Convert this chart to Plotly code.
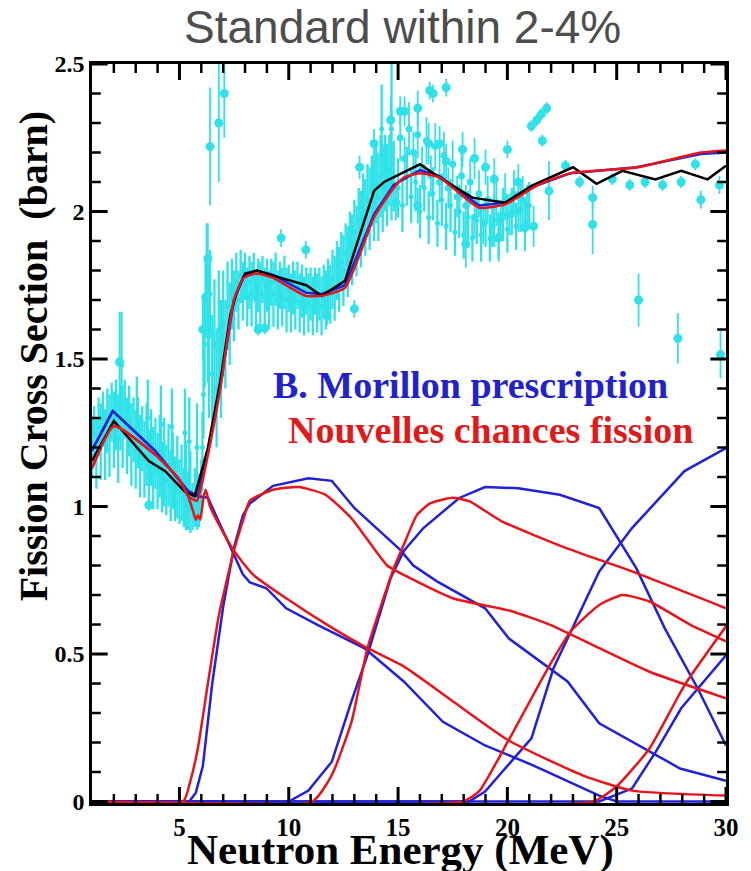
import plotly.graph_objects as go

# ---------------- measured cross sections (E in MeV, sigma in barn) ----------------
# dense, finely binned measurements
dense_E = [1.0, 1.1, 1.2, 1.3, 1.4, 1.5, 1.6, 1.7, 1.8, 1.9,
           2.0, 2.1, 2.2, 2.3, 2.4, 2.5, 2.6, 2.7, 2.8, 2.9,
           3.0, 3.1, 3.2, 3.3, 3.4, 3.5, 3.6, 3.7, 3.8, 3.9,
           4.0, 4.1, 4.2, 4.3, 4.4, 4.5, 4.6, 4.7, 4.8, 4.9,
           5.0, 5.1, 5.2, 5.3, 5.4, 5.5, 5.6, 5.7, 5.8, 5.9,
           6.0, 6.05, 6.1, 6.15, 6.2, 6.25, 6.3, 6.35, 6.4, 6.5,
           6.6, 6.7, 6.8, 6.9, 7.0, 7.1, 7.2, 7.3, 7.4, 7.5,
           7.6, 7.7, 7.8, 7.9, 8.0, 8.1, 8.2, 8.3, 8.4, 8.5,
           8.6, 8.7, 8.8, 8.9, 9.0, 9.1, 9.2, 9.3, 9.4, 9.5,
           9.6, 9.7, 9.8, 9.9, 10.0, 10.1, 10.2, 10.3, 10.4, 10.5,
           10.6, 10.7, 10.8, 10.9, 11.0, 11.1, 11.2, 11.3, 11.4, 11.5,
           11.6, 11.7, 11.8, 11.9, 12.0, 12.1, 12.2, 12.3, 12.4, 12.5,
           12.6, 12.7, 12.8, 12.9, 13.0, 13.1, 13.2, 13.3, 13.4, 13.5,
           13.6, 13.7, 13.8, 13.9, 14.0, 14.1, 14.2, 14.3, 14.4, 14.5,
           14.6, 14.7, 14.8, 15.0, 15.2, 15.4, 15.6, 15.8, 16.0, 16.2,
           16.4, 16.6, 16.8, 17.0, 17.2, 17.4, 17.6, 17.8, 18.0, 18.2,
           18.4, 18.6, 18.8, 19.0, 19.2, 19.4, 19.6, 19.8, 20.0, 20.2,
           20.4, 20.6, 20.8, 21.0]
dense_sig = [1.20, 1.25, 1.18, 1.27, 1.22, 1.30, 1.21, 1.29, 1.24, 1.32,
             1.26, 1.31, 1.23, 1.30, 1.27, 1.33, 1.24, 1.29, 1.21, 1.26,
             1.19, 1.25, 1.17, 1.23, 1.16, 1.21, 1.14, 1.20, 1.13, 1.18,
             1.12, 1.17, 1.10, 1.15, 1.09, 1.14, 1.07, 1.12, 1.06, 1.10,
             1.05, 1.08, 1.03, 1.07, 1.02, 1.05, 1.00, 1.03, 0.99, 1.02,
             1.06, 1.20, 1.38, 1.55, 1.71, 1.84, 1.62, 1.45, 1.72, 1.45,
             1.55, 1.40, 1.60, 1.50, 1.62, 1.55, 1.68, 1.62, 1.72, 1.68,
             1.76, 1.70, 1.78, 1.73, 1.78, 1.71, 1.76, 1.72, 1.78, 1.70,
             1.75, 1.72, 1.77, 1.71, 1.75, 1.70, 1.76, 1.72, 1.77, 1.70,
             1.75, 1.71, 1.76, 1.70, 1.74, 1.69, 1.74, 1.70, 1.75, 1.69,
             1.73, 1.68, 1.73, 1.69, 1.72, 1.68, 1.73, 1.69, 1.72, 1.68,
             1.73, 1.70, 1.75, 1.72, 1.77, 1.74, 1.80, 1.77, 1.83, 1.80,
             1.86, 1.83, 1.90, 1.87, 1.93, 1.90, 1.97, 1.94, 2.01, 1.98,
             2.04, 2.01, 2.07, 2.04, 2.09, 2.05, 2.12, 2.08, 2.13, 2.09,
             2.14, 2.10, 2.12, 2.08, 2.02, 2.12, 2.05, 2.10, 2.00, 2.08,
             1.98, 2.06, 1.96, 2.04, 1.95, 2.02, 1.93, 2.00, 1.92, 1.98,
             1.91, 1.97, 1.92, 1.96, 1.91, 1.97, 1.92, 1.99, 1.94, 2.00,
             1.95, 2.01, 1.96, 2.02]
dense_err = [0.10, 0.09, 0.12, 0.10, 0.13, 0.09, 0.12, 0.11, 0.14, 0.10,
             0.13, 0.12, 0.15, 0.11, 0.14, 0.10, 0.13, 0.12, 0.14, 0.11,
             0.13, 0.12, 0.14, 0.11, 0.13, 0.14, 0.12, 0.13, 0.14, 0.12,
             0.13, 0.14, 0.12, 0.15, 0.12, 0.14, 0.12, 0.13, 0.11, 0.14,
             0.11, 0.13, 0.10, 0.15, 0.10, 0.14, 0.08, 0.10, 0.07, 0.09,
             0.10, 0.12, 0.15, 0.15, 0.14, 0.12, 0.20, 0.15, 0.15, 0.20,
             0.22, 0.20, 0.20, 0.20, 0.18, 0.15, 0.15, 0.14, 0.12, 0.12,
             0.10, 0.10, 0.09, 0.10, 0.08, 0.10, 0.09, 0.11, 0.08, 0.10,
             0.09, 0.11, 0.08, 0.10, 0.09, 0.10, 0.08, 0.11, 0.09, 0.10,
             0.08, 0.10, 0.09, 0.11, 0.08, 0.10, 0.09, 0.10, 0.08, 0.10,
             0.09, 0.10, 0.08, 0.10, 0.09, 0.10, 0.08, 0.10, 0.09, 0.10,
             0.09, 0.10, 0.09, 0.10, 0.10, 0.11, 0.10, 0.11, 0.10, 0.12,
             0.10, 0.12, 0.10, 0.12, 0.11, 0.12, 0.11, 0.13, 0.12, 0.13,
             0.12, 0.14, 0.12, 0.14, 0.13, 0.15, 0.14, 0.15, 0.13, 0.14,
             0.12, 0.13, 0.12, 0.10, 0.09, 0.10, 0.09, 0.10, 0.09, 0.08,
             0.09, 0.09, 0.08, 0.09, 0.08, 0.09, 0.08, 0.09, 0.08, 0.09,
             0.08, 0.08, 0.09, 0.08, 0.08, 0.09, 0.08, 0.09, 0.08, 0.08,
             0.08, 0.08, 0.08, 0.08]

# isolated fluctuating bins with large uncertainties
spike_E = [2.35, 3.05, 3.55, 4.15, 4.65, 5.25, 5.45, 5.8, 14.25, 14.7]
spike_sig = [1.48, 1.32, 1.30, 1.28, 1.27, 1.25, 1.22, 1.20, 2.28, 2.28]
spike_err = [0.18, 0.12, 0.13, 0.13, 0.13, 0.15, 0.15, 0.15, 0.15, 0.22]

# intermediate-resolution points above 15 MeV
mid_E = [15.1, 15.3, 15.5, 15.7, 15.9, 16.1, 16.3, 16.5, 16.7, 16.9,
         17.1, 17.3, 17.5, 17.7, 17.9, 18.1, 18.3, 18.5, 18.7, 18.9,
         19.1, 19.3, 19.5, 19.7, 19.9, 20.1, 20.3, 20.5, 20.7, 20.9]
mid_sig = [2.25, 2.18, 2.28, 2.20, 2.26, 2.15, 2.24, 2.12, 2.22, 2.10,
           2.19, 2.08, 2.16, 2.05, 2.12, 2.02, 2.10, 1.98, 2.06, 1.96,
           2.04, 1.95, 2.03, 1.97, 2.05, 1.99, 2.06, 2.00, 2.04, 2.02]
mid_err = [0.08, 0.07, 0.09, 0.07, 0.08, 0.07, 0.08, 0.07, 0.08, 0.07,
           0.08, 0.07, 0.08, 0.07, 0.08, 0.07, 0.08, 0.07, 0.08, 0.07,
           0.08, 0.07, 0.08, 0.07, 0.08, 0.07, 0.08, 0.07, 0.08, 0.07]

# older / coarser measurements (large markers)
big_E = [2.26, 3.6, 5.5, 6.07, 6.2, 6.3, 6.4, 6.8, 7.05, 8.6,
         8.9, 9.65, 10.78, 11.75, 13.0, 13.24, 13.9, 14.66, 14.9, 15.1,
         15.3, 15.9, 15.9, 16.4, 16.45, 16.6, 16.9, 17.2, 17.2, 17.95,
         18.1, 18.5, 19.0, 19.4, 19.6, 20.0, 20.5, 20.8, 21.2, 21.1,
         21.35, 21.55, 21.8, 21.6, 21.9, 22.66, 23.3, 23.9, 23.9, 24.8,
         25.6, 26.0, 26.3, 27.1, 27.8, 27.95, 28.6, 28.85, 29.7, 29.75]
big_sig = [1.49, 1.005, 1.0, 1.60, 1.71, 1.84, 2.22, 2.30, 2.40, 1.60,
           1.605, 1.91, 1.87, 1.645, 1.67, 2.15, 2.23, 2.31, 2.03, 2.34,
           2.34, 2.35, 2.02, 2.23, 2.41, 2.40, 2.23, 2.42, 2.17, 2.21,
           1.89, 2.18, 2.15, 2.11, 1.91, 2.21, 2.10, 1.945, 1.95, 2.29,
           2.31, 2.33, 2.35, 2.24, 2.07, 2.155, 2.10, 2.047, 1.956, 2.11,
           2.09, 1.70, 2.10, 2.09, 1.57, 2.10, 2.16, 2.04, 2.09, 1.515]
big_err = [0.17, 0.02, 0.02, 0.10, 0.12, 0.12, 0.20, 0.20, 0.15, 0.02,
           0.02, 0.03, 0.03, 0.03, 0.03, 0.04, 0.05, 0.08, 0.06, 0.05,
           0.05, 0.06, 0.06, 0.07, 0.03, 0.03, 0.06, 0.03, 0.06, 0.06,
           0.08, 0.07, 0.06, 0.07, 0.08, 0.03, 0.06, 0.08, 0.07, 0.02,
           0.02, 0.02, 0.02, 0.02, 0.10, 0.02, 0.02, 0.04, 0.10, 0.02,
           0.02, 0.09, 0.02, 0.02, 0.085, 0.02, 0.02, 0.03, 0.03, 0.08]

# ---------------- evaluated / calculated curves ----------------
black_E = [1.0, 2.0, 3.6, 4.35, 5.25, 5.7, 6.3, 6.87, 7.33, 7.64, 8.0, 8.53, 9.88, 10.8, 11.5,
           12.57, 13.9, 14.36, 16.0, 16.9, 18.4, 19.9, 21.1, 23.0, 24.08, 25.26, 26.77, 27.95, 29.16, 30.0]
black_sig = [1.155, 1.29, 1.154, 1.12, 1.05, 1.035, 1.198, 1.425, 1.65, 1.73, 1.79, 1.80, 1.77, 1.75, 1.714,
             1.765, 2.07, 2.10, 2.16, 2.115, 2.047, 2.03, 2.087, 2.15, 2.094, 2.138, 2.109, 2.138, 2.109, 2.155]

# B. Morillon prescription: total and multi-chance components
blue_tot_E = [1.0, 1.95, 3.9, 4.8, 5.4, 5.84, 6.3, 6.87, 7.49, 7.94, 8.53, 9.28, 10.78, 11.5, 12.57,
              13.9, 14.8, 16.0, 16.9, 18.7, 19.9, 21.4, 22.9, 25.9, 28.85, 30.0]
blue_tot_sig = [1.19, 1.324, 1.188, 1.108, 1.052, 1.035, 1.18, 1.41, 1.70, 1.78, 1.80, 1.785, 1.725, 1.72, 1.75,
                1.99, 2.09, 2.14, 2.12, 2.02, 2.03, 2.09, 2.13, 2.15, 2.195, 2.20]
b1_E = [1.0, 1.95, 3.9, 4.8, 5.4, 5.84, 6.3, 6.87, 7.49, 7.9, 8.22, 8.98, 9.88, 11.36, 13.47, 15.26,
        17.05, 18.98, 21.2, 24.2, 25.0, 30.0]
b1_sig = [1.19, 1.324, 1.188, 1.108, 1.052, 1.035, 1.03, 0.937, 0.835, 0.77, 0.743, 0.723, 0.655, 0.597,
          0.519, 0.407, 0.27, 0.19, 0.122, 0.02, 0.0, 0.0]
b2_E = [1.0, 5.45, 5.75, 6.07, 6.5, 7.0, 7.49, 7.9, 8.22, 9.28, 10.9, 11.97, 13.0, 15.1, 15.7, 16.76,
        18.98, 20.06, 22.75, 24.2, 27.9, 30.0]
b2_sig = [0.0, 0.0, 0.03, 0.12, 0.40, 0.66, 0.86, 0.97, 1.01, 1.07, 1.096, 1.087, 0.995, 0.853, 0.80,
          0.747, 0.655, 0.553, 0.407, 0.265, 0.112, 0.07]
b3_E = [1.0, 10.0, 10.9, 11.97, 12.87, 13.6, 14.66, 15.26, 16.16, 17.8, 18.98, 20.5, 22.4, 24.2, 25.9,
        27.2, 28.7, 30.0]
b3_sig = [0.0, 0.0, 0.037, 0.135, 0.34, 0.496, 0.757, 0.849, 0.927, 1.029, 1.066, 1.062, 1.04, 0.995,
          0.79, 0.587, 0.384, 0.19]
b4_E = [1.0, 18.25, 18.98, 21.1, 22.1, 24.2, 25.7, 28.1, 30.0]
b4_sig = [0.0, 0.0, 0.034, 0.214, 0.45, 0.78, 0.927, 1.12, 1.198]
b5_E = [1.0, 24.2, 25.7, 26.8, 27.95, 30.0]
b5_sig = [0.0, 0.0, 0.044, 0.17, 0.316, 0.496]

# "Nouvelles chances fission": total and multi-chance components
red_tot_E = [1.0, 2.0, 3.9, 4.95, 5.4, 5.8, 6.3, 6.87, 7.49, 7.94, 8.53, 9.28, 10.78, 11.5, 12.57, 13.9,
             14.8, 15.26, 16.0, 16.9, 18.7, 19.9, 21.4, 22.9, 25.9, 28.85, 30.0]
red_tot_sig = [1.13, 1.273, 1.175, 1.096, 1.035, 1.02, 1.175, 1.40, 1.70, 1.775, 1.79, 1.775, 1.714, 1.714,
               1.741, 1.98, 2.08, 2.115, 2.13, 2.115, 2.013, 2.024, 2.09, 2.13, 2.149, 2.20, 2.207]
r1_E = [1.0, 2.0, 3.9, 4.95, 5.4, 5.6, 5.75, 5.85, 5.95, 6.1, 6.2, 6.4, 6.87, 7.49, 8.38, 9.88, 11.8,
        13.47, 15.26, 17.5, 20.06, 23.47, 25.7, 30.0]
r1_sig = [1.13, 1.273, 1.175, 1.096, 1.035, 0.99, 0.955, 0.97, 0.955, 1.03, 1.057, 1.0, 0.93, 0.85, 0.768,
          0.689, 0.597, 0.525, 0.458, 0.34, 0.207, 0.088, 0.037, 0.02]
r2_E = [1.0, 5.17, 5.5, 5.84, 6.3, 6.8, 7.49, 7.94, 8.22, 9.28, 10.47, 11.67, 12.87, 14.5, 15.26, 17.5,
        20.2, 21.99, 24.2, 26.5, 30.0]
r2_sig = [0.0, 0.0, 0.07, 0.18, 0.40, 0.63, 0.85, 0.96, 1.02, 1.057, 1.066, 1.04, 0.96, 0.80, 0.768,
          0.689, 0.645, 0.598, 0.52, 0.44, 0.35]
r3_E = [1.0, 11.07, 11.97, 12.87, 13.6, 14.8, 15.26, 15.85, 16.45, 17.5, 18.25, 19.74, 22.7, 25.7, 30.0]
r3_sig = [0.0, 0.0, 0.09, 0.27, 0.52, 0.79, 0.87, 0.97, 1.01, 1.03, 1.018, 0.95, 0.859, 0.78, 0.655]
r4_E = [1.0, 17.95, 18.7, 20.05, 21.84, 22.9, 24.2, 25.26, 26.5, 28.4, 30.0]
r4_sig = [0.0, 0.0, 0.034, 0.207, 0.45, 0.577, 0.666, 0.70, 0.678, 0.598, 0.543]
r5_E = [1.0, 23.9, 24.98, 26.5, 28.1, 30.0]
r5_sig = [0.0, 0.0, 0.05, 0.18, 0.394, 0.594]

# axis tick positions
x_major = [5, 10, 15, 20, 25, 30]
x_minor = [2, 3, 4, 6, 7, 8, 9, 11, 12, 13, 14, 16, 17, 18, 19, 21, 22, 23, 24, 26, 27, 28, 29]
y_major = [0, 0.5, 1, 1.5, 2, 2.5]
y_minor = [0.1, 0.2, 0.3, 0.4, 0.6, 0.7, 0.8, 0.9, 1.1, 1.2, 1.3, 1.4,
           1.6, 1.7, 1.8, 1.9, 2.1, 2.2, 2.3, 2.4]
X_RANGE = [1, 30]
Y_RANGE = [-0.005, 2.5]

W, H = 751, 871
MARGIN = dict(l=92, r=12, t=64, b=68)
PLOT_W = W - MARGIN["l"] - MARGIN["r"]
PLOT_H = H - MARGIN["t"] - MARGIN["b"]
X_PER_PX = (X_RANGE[1] - X_RANGE[0]) / PLOT_W
Y_PER_PX = (Y_RANGE[1] - Y_RANGE[0]) / PLOT_H

CYAN = "#2fe2e8"
BLUE = "#2121d8"
RED = "#e8141c"
SERIF = "Liberation Serif, Times New Roman, serif"

fig = go.Figure()

# measurements
for xs, ys, es in [(dense_E, dense_sig, dense_err), (spike_E, spike_sig, spike_err)]:
    fig.add_trace(go.Scatter(
        x=xs, y=ys, mode="markers",
        marker=dict(color=CYAN, size=5),
        error_y=dict(type="data", array=es, color=CYAN, thickness=2.3, width=0),
        hoverinfo="skip"))
fig.add_trace(go.Scatter(
    x=mid_E, y=mid_sig, mode="markers",
    marker=dict(color=CYAN, size=7),
    error_y=dict(type="data", array=mid_err, color=CYAN, thickness=1.8, width=0),
    hoverinfo="skip"))
fig.add_trace(go.Scatter(
    x=big_E, y=big_sig, mode="markers",
    marker=dict(color=CYAN, size=9),
    error_y=dict(type="data", array=big_err, color=CYAN, thickness=1.8, width=0),
    hoverinfo="skip"))

# B. Morillon curves
for xs, ys in [(b5_E, b5_sig), (b4_E, b4_sig), (b3_E, b3_sig), (b2_E, b2_sig),
               (b1_E, b1_sig), (blue_tot_E, blue_tot_sig)]:
    fig.add_trace(go.Scatter(x=xs, y=ys, mode="lines",
                             line=dict(color=BLUE, width=2.5), hoverinfo="skip"))

# evaluation
fig.add_trace(go.Scatter(x=black_E, y=black_sig, mode="lines",
                         line=dict(color="black", width=2.5), hoverinfo="skip"))

# Nouvelles chances curves
for xs, ys in [(r5_E, r5_sig), (r4_E, r4_sig), (r3_E, r3_sig), (r2_E, r2_sig),
               (r1_E, r1_sig), (red_tot_E, red_tot_sig)]:
    fig.add_trace(go.Scatter(x=xs, y=ys, mode="lines",
                             line=dict(color=RED, width=2.5, shape="spline", smoothing=0.5),
                             hoverinfo="skip"))


# inward tick marks on all four sides, drawn as line segments in data space
def x_tick_segments(vals, length_px):
    dy = length_px * Y_PER_PX
    xs, ys = [], []
    for v in vals:
        xs += [v, v, None, v, v, None]
        ys += [Y_RANGE[0], Y_RANGE[0] + dy, None, Y_RANGE[1], Y_RANGE[1] - dy, None]
    return xs, ys


def y_tick_segments(vals, length_px):
    dx = length_px * X_PER_PX
    xs, ys = [], []
    for v in vals:
        xs += [X_RANGE[0], X_RANGE[0] + dx, None, X_RANGE[1], X_RANGE[1] - dx, None]
        ys += [v, v, None, v, v, None]
    return xs, ys


for seg_fn, vals, length, width in [(x_tick_segments, x_major, 16, 3),
                                    (x_tick_segments, x_minor, 9, 2.5),
                                    (y_tick_segments, y_major, 16, 3),
                                    (y_tick_segments, y_minor, 9, 2.5)]:
    tx, ty = seg_fn(vals, length)
    fig.add_trace(go.Scatter(x=tx, y=ty, mode="lines", connectgaps=False,
                             line=dict(color="black", width=width), hoverinfo="skip"))

fig.update_layout(
    xaxis=dict(
        range=X_RANGE, tickmode="array", tickvals=x_major,
        ticktext=[str(v) for v in x_major], ticks="",
        showline=True, linecolor="black", linewidth=2.5, mirror=True,
        showgrid=False, zeroline=False,
        tickfont=dict(family=SERIF, size=25, color="black", weight="bold"),
    ),
    yaxis=dict(
        range=Y_RANGE, tickmode="array", tickvals=y_major,
        ticktext=["0", "0.5", "1", "1.5", "2", "2.5"], ticks="",
        showline=True, linecolor="black", linewidth=2.5, mirror=True,
        showgrid=False, zeroline=False,
        tickfont=dict(family=SERIF, size=24, color="black", weight="bold"),
        ticksuffix="\u00a0\u00a0",
    ),
)

annotations = [
    dict(text="Standard within 2-4%", x=0.49, y=1.05, xref="paper", yref="paper",
         xanchor="center", yanchor="middle", showarrow=False,
         font=dict(family="Liberation Sans, Arial, sans-serif", size=46, color="#4d4d4d")),
    dict(text="Neutron Energy (MeV)", x=0.487, y=-0.064, xref="paper", yref="paper",
         xanchor="center", yanchor="middle", showarrow=False,
         font=dict(family=SERIF, size=43, color="black", weight="bold")),
    dict(text="Fission Cross Section \u00a0(barn)", x=-0.092, y=0.604, xref="paper", yref="paper",
         xanchor="center", yanchor="middle", textangle=-90, showarrow=False,
         font=dict(family=SERIF, size=40, color="black", weight="bold")),
    dict(text="B. Morillon prescription", x=0.283, y=0.566, xref="paper", yref="paper",
         xanchor="left", yanchor="middle", showarrow=False,
         font=dict(family=SERIF, size=38, color="#2222cc", weight="bold")),
    dict(text="Nouvelles chances fission", x=0.306, y=0.505, xref="paper", yref="paper",
         xanchor="left", yanchor="middle", showarrow=False,
         font=dict(family=SERIF, size=38, color="#e01a1a", weight="bold")),
]

fig.update_layout(
    width=W, height=H,
    margin=MARGIN,
    plot_bgcolor="white", paper_bgcolor="white",
    showlegend=False,
    annotations=annotations,
)

fig.write_html("out.html")
